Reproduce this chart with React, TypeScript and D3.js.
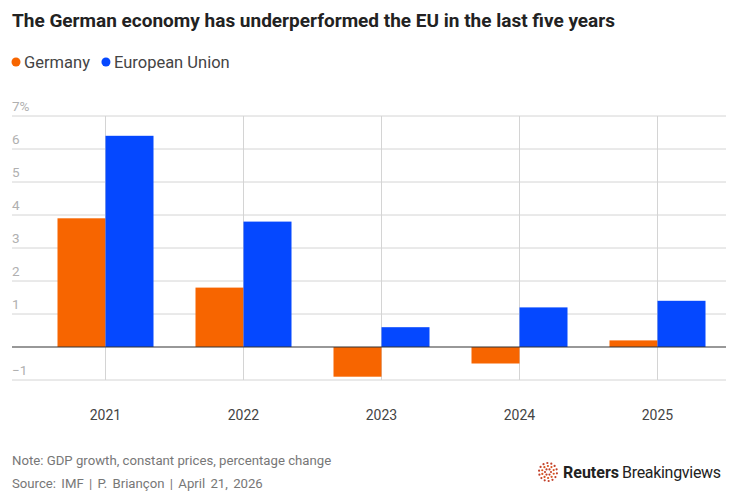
import React, { useRef, useEffect } from "react";
import * as d3 from "d3";

const years = ["2021", "2022", "2023", "2024", "2025"];
const germany = [3.9, 1.8, -0.9, -0.5, 0.2];
const eu = [6.4, 3.8, 0.6, 1.2, 1.4];
const yTicks = [-1, 0, 1, 2, 3, 4, 5, 6, 7];
const seriesNames = ["Germany", "European Union"];
const seriesColors = ["#f76500", "#0548ff"];

const W = 737;
const H = 501;

export default function App() {
  const svgRef = useRef<SVGSVGElement>(null);

  useEffect(() => {
    if (!svgRef.current) return;
    const svg = d3.select(svgRef.current);
    svg.selectAll("*").remove();

    const font = "Roboto, 'Open Sans', sans-serif";
    const left = 12;
    const right = 726;

    const y = d3.scaleLinear().domain([-1, 7]).range([380, 116]);
    const x = d3.scalePoint<string>().domain(years).range([105.5, 657.5]);
    const barW = 48;

    // title
    svg.append("text")
      .attr("x", left)
      .attr("y", 27)
      .style("font-family", font)
      .style("font-weight", 700)
      .style("font-size", "19px")
      .style("fill", "#222")
      .text("The German economy has underperformed the EU in the last five years");

    // legend
    let lx = left + 4;
    seriesNames.forEach((name, i) => {
      svg.append("circle")
        .attr("cx", lx)
        .attr("cy", 62)
        .attr("r", 4.5)
        .attr("fill", seriesColors[i]);
      const t = svg.append("text")
        .attr("x", lx + 8)
        .attr("y", 68)
        .style("font-family", font)
        .style("font-size", "16.5px")
        .style("fill", "#444")
        .text(name);
      const w = (t.node() as SVGTextElement).getComputedTextLength();
      lx += w + 24;
    });

    const g = svg.append("g");

    // horizontal grid
    g.selectAll(".hgrid")
      .data(yTicks.filter(d => d !== 0))
      .enter()
      .append("line")
      .attr("x1", left)
      .attr("x2", right)
      .attr("y1", d => y(d))
      .attr("y2", d => y(d))
      .attr("stroke", "#d4d4d4")
      .attr("stroke-width", 1);

    // vertical grid
    g.selectAll(".vgrid")
      .data(years)
      .enter()
      .append("line")
      .attr("x1", d => x(d)!)
      .attr("x2", d => x(d)!)
      .attr("y1", y(7))
      .attr("y2", y(-1))
      .attr("stroke", "#d4d4d4")
      .attr("stroke-width", 1);

    // y tick labels
    g.selectAll(".ytick")
      .data(yTicks.filter(d => d !== 0))
      .enter()
      .append("text")
      .attr("x", left)
      .attr("y", d => y(d) - 5)
      .style("font-family", font)
      .style("font-size", "13.5px")
      .style("fill", "#b0b0b0")
      .text(d => (d === 7 ? "7%" : d < 0 ? "\u2212" + Math.abs(d) : String(d)));

    // bars
    const series = [germany, eu];
    series.forEach((vals, si) => {
      g.selectAll(".bar" + si)
        .data(vals)
        .enter()
        .append("rect")
        .attr("x", (_, i) => x(years[i])! + (si === 0 ? -barW : 0))
        .attr("width", barW)
        .attr("y", d => y(Math.max(0, d)))
        .attr("height", d => Math.abs(y(d) - y(0)))
        .attr("fill", seriesColors[si]);
    });

    // zero line
    g.append("line")
      .attr("x1", left)
      .attr("x2", right)
      .attr("y1", y(0))
      .attr("y2", y(0))
      .attr("stroke", "#333")
      .attr("stroke-width", 1.2);

    // x labels
    g.selectAll(".xlab")
      .data(years)
      .enter()
      .append("text")
      .attr("x", d => x(d)!)
      .attr("y", 420)
      .attr("text-anchor", "middle")
      .style("font-family", font)
      .style("font-size", "14px")
      .style("fill", "#444")
      .text(d => d);

    // footnotes
    svg.append("text")
      .attr("x", left)
      .attr("y", 465)
      .style("font-family", font)
      .style("font-size", "13.2px")
      .style("fill", "#777")
      .text("Note: GDP growth, constant prices, percentage change");
    svg.append("text")
      .attr("x", left)
      .attr("y", 488)
      .style("font-family", font)
      .style("font-size", "13.2px")
      .style("fill", "#777")
      .style("word-spacing", "2px")
      .text("Source: IMF | P. Brian\u00e7on | April 21, 2026");

    // logo
    const logo = svg.append("g").attr("transform", "translate(548,472)");
    [[3, 6], [6, 10], [9, 14]].forEach(([r, n], ri) => {
      d3.range(n).forEach(k => {
        const a = (k / n) * Math.PI * 2 + ri * 0.3;
        logo.append("circle")
          .attr("cx", Math.cos(a) * r)
          .attr("cy", Math.sin(a) * r)
          .attr("r", 1.1)
          .attr("fill", ri === 1 ? "#d9541e" : "#c2412b");
      });
    });
    const lt = svg.append("text")
      .attr("x", 563)
      .attr("y", 478)
      .style("font-family", font)
      .style("font-size", "16px")
      .style("fill", "#222");
    lt.append("tspan").style("font-weight", 700).text("Reuters");
    lt.append("tspan").attr("dx", 3).style("letter-spacing", "-0.3px").text("Breakingviews");
  }, []);

  return (
    <svg
      ref={svgRef}
      width={W}
      height={H}
      style={{ position: "absolute", left: 0, top: 0, background: "#fff" }}
    />
  );
}
